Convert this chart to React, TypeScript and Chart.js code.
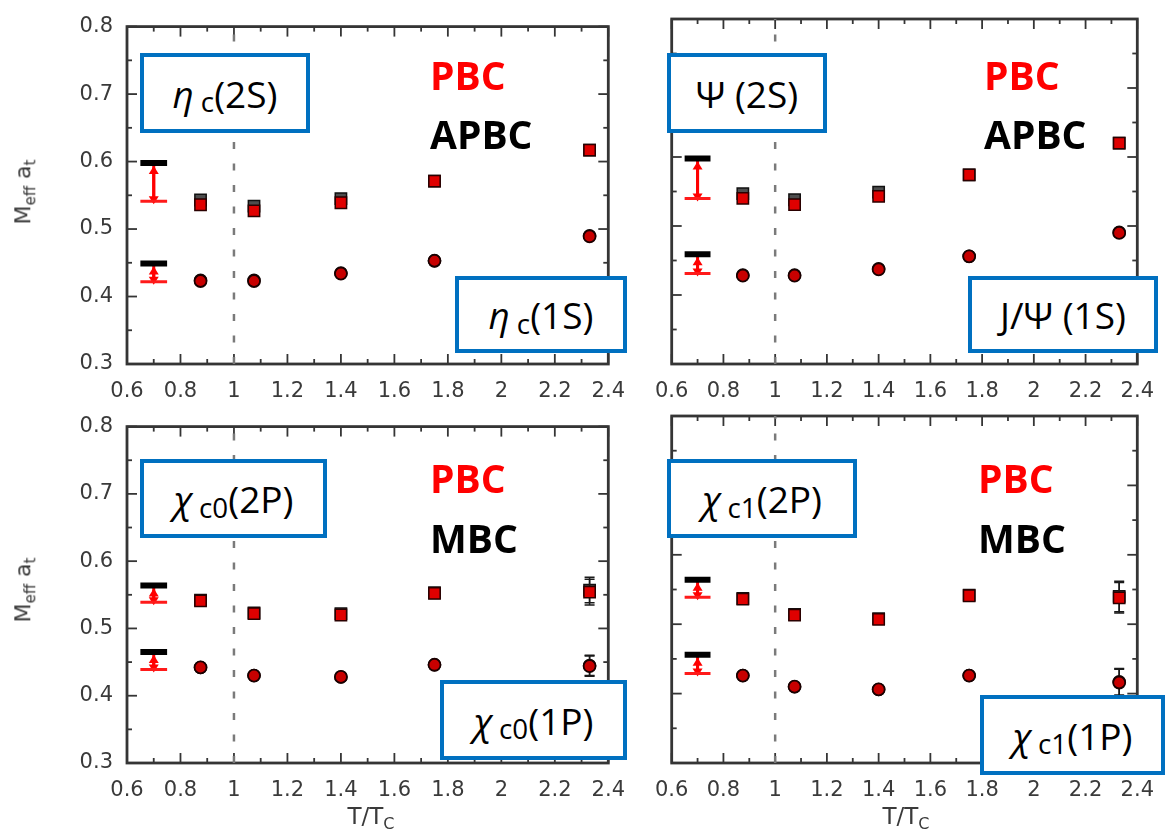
import React, { useEffect, useRef } from 'react';
import { Chart, registerables } from 'chart.js';

Chart.register(...registerables);

// ---------- data ----------
const temps = [0.875, 1.075, 1.4, 1.75, 2.33];
const refBarX = [0.65, 0.75];
const refArrowX = 0.7;
const tcLineX = 1;
const xTickValues = [0.6, 0.8, 1, 1.2, 1.4, 1.6, 1.8, 2, 2.2, 2.4];
const yTickValues = [0.3, 0.4, 0.5, 0.6, 0.7, 0.8];

// eta_c panel (PBC vs APBC)
const etaC2S_APBC = [0.543, 0.534, 0.545, 0.571, 0.617];
const etaC2S_PBC = [0.536, 0.527, 0.539, 0.571, 0.617];
const etaC1S_APBC = [0.424, 0.424, 0.435, 0.453, 0.490];
const etaC1S_PBC = [0.423, 0.423, 0.434, 0.453, 0.489];
const etaC_ref_APBC = [0.598, 0.449];
const etaC_ref_PBC = [0.541, 0.422];

// J/psi panel (PBC vs APBC)
const psi2S_APBC = [0.547, 0.538, 0.549, 0.574, 0.620];
const psi2S_PBC = [0.540, 0.531, 0.543, 0.574, 0.620];
const psi1S_APBC = [0.429, 0.429, 0.438, 0.456, 0.491];
const psi1S_PBC = [0.428, 0.428, 0.437, 0.456, 0.490];
const psi_ref_APBC = [0.598, 0.459];
const psi_ref_PBC = [0.540, 0.431];

// chi_c0 panel (PBC vs MBC)
const chiC0_2P_MBC = [0.542, 0.523, 0.522, 0.553, 0.557];
const chiC0_2P_PBC = [0.541, 0.522, 0.520, 0.552, 0.554];
const chiC0_2P_err = [0.003, 0.003, 0.003, 0.006, 0.019];
const chiC0_1P_MBC = [0.442, 0.430, 0.428, 0.446, 0.445];
const chiC0_1P_PBC = [0.442, 0.430, 0.428, 0.446, 0.444];
const chiC0_1P_err = [0.002, 0.002, 0.002, 0.003, 0.015];
const chiC0_ref_MBC = [0.564, 0.465];
const chiC0_ref_PBC = [0.539, 0.439];

// chi_c1 panel (PBC vs MBC)
const chiC1_2P_MBC = [0.537, 0.514, 0.508, 0.542, 0.540];
const chiC1_2P_PBC = [0.536, 0.513, 0.507, 0.541, 0.538];
const chiC1_2P_err = [0.003, 0.003, 0.003, 0.007, 0.022];
const chiC1_1P_MBC = [0.426, 0.410, 0.406, 0.426, 0.417];
const chiC1_1P_PBC = [0.426, 0.410, 0.406, 0.426, 0.416];
const chiC1_1P_err = [0.002, 0.002, 0.002, 0.003, 0.019];
const chiC1_ref_MBC = [0.564, 0.456];
const chiC1_ref_PBC = [0.539, 0.429];

const smallErr = [0.002, 0.002, 0.002, 0.002, 0.003];

// ---------- styles ----------
const AXIS_COLOR = '#353535';
const LABEL_COLOR = '#3a3a3a';
const RED = '#e00000';

function buildDatasets(
  upA: number[], upP: number[], upErr: number[],
  loA: number[], loP: number[], loErr: number[],
  refA: number[], refP: number[]
) {
  const pts = (ys: number[]) => ys.map((y, i) => ({ x: temps[i], y }));
  const bar = (y: number) => refBarX.map((x) => ({ x, y }));
  const ds: any[] = [
    {
      data: [{ x: tcLineX, y: yTickValues[0] }, { x: tcLineX, y: yTickValues[yTickValues.length - 1] }],
      showLine: true, borderColor: '#7a7a7a', borderWidth: 2.5, borderDash: [7, 14.5],
      pointRadius: 0, order: 20,
    },
  ];
  for (let k = 0; k < 2; k++) {
    ds.push({
      data: [{ x: refArrowX, y: refA[k] }, { x: refArrowX, y: refP[k] }],
      showLine: true, borderColor: '#ff0000', borderWidth: 3, pointRadius: 0,
      arrowHeads: true, order: 12,
    });
    ds.push({ data: bar(refP[k]), showLine: true, borderColor: '#ff1a1a', borderWidth: 3, pointRadius: 0, order: 11 });
    ds.push({ data: bar(refA[k]), showLine: true, borderColor: '#000', borderWidth: 6, pointRadius: 0, order: 10 });
  }
  ds.push({
    data: pts(upA), errors: upErr, pointStyle: 'rect', pointRadius: 8,
    backgroundColor: '#4d4d4d', borderColor: '#111', borderWidth: 1.5, order: 5,
  });
  ds.push({
    data: pts(loA), errors: loErr, pointStyle: 'circle', pointRadius: 6,
    backgroundColor: '#4d4d4d', borderColor: '#111', borderWidth: 1.5, order: 5,
  });
  ds.push({
    data: pts(upP), errors: upErr, pointStyle: 'rect', pointRadius: 8,
    backgroundColor: RED, borderColor: '#2a0000', borderWidth: 1.5, order: 2,
  });
  ds.push({
    data: pts(loP), errors: loErr, pointStyle: 'circle', pointRadius: 6,
    backgroundColor: '#c80000', borderColor: '#1a0000', borderWidth: 1.8, order: 2,
  });
  return ds;
}

const fmt = (v: number) => String(Math.round(v * 100) / 100);

const framePlugin = {
  id: 'frameTicks',
  beforeDatasetsDraw(chart: any) {
    const { ctx, chartArea: a, scales } = chart;
    const xs = scales.x, ys = scales.y;
    ctx.save();
    ctx.strokeStyle = AXIS_COLOR;
    ctx.lineWidth = 1.8;
    const tick = (x1: number, y1: number, x2: number, y2: number) => {
      ctx.beginPath(); ctx.moveTo(x1, y1); ctx.lineTo(x2, y2); ctx.stroke();
    };
    const major = 10, minor = 5;
    xTickValues.forEach((v, i) => {
      const px = xs.getPixelForValue(v);
      tick(px, a.bottom, px, a.bottom - major);
      tick(px, a.top, px, a.top + major);
      if (i < xTickValues.length - 1) {
        const m = xs.getPixelForValue((v + xTickValues[i + 1]) / 2);
        tick(m, a.bottom, m, a.bottom - minor);
        tick(m, a.top, m, a.top + minor);
      }
    });
    yTickValues.forEach((v, i) => {
      const py = ys.getPixelForValue(v);
      tick(a.left, py, a.left + major, py);
      tick(a.right, py, a.right - major, py);
      if (i < yTickValues.length - 1) {
        const m = ys.getPixelForValue((v + yTickValues[i + 1]) / 2);
        tick(a.left, m, a.left + minor, m);
        tick(a.right, m, a.right - minor, m);
      }
    });
    ctx.lineWidth = 2.8;
    ctx.strokeRect(a.left, a.top, a.right - a.left, a.bottom - a.top);
    ctx.restore();
  },
};

const errorBarPlugin = {
  id: 'errorBars',
  beforeDatasetDraw(chart: any, args: any) {
    const ds = chart.data.datasets[args.index];
    if (!ds.errors) return;
    const ys = chart.scales.y;
    const { ctx } = chart;
    ctx.save();
    ctx.strokeStyle = '#1a1a1a';
    ctx.lineWidth = 1.5;
    args.meta.data.forEach((el: any, i: number) => {
      const e = ds.errors[i];
      const v = ds.data[i].y;
      const t = ys.getPixelForValue(v + e);
      const b = ys.getPixelForValue(v - e);
      ctx.beginPath();
      ctx.moveTo(el.x, t); ctx.lineTo(el.x, b);
      ctx.moveTo(el.x - 5, t); ctx.lineTo(el.x + 5, t);
      ctx.moveTo(el.x - 5, b); ctx.lineTo(el.x + 5, b);
      ctx.stroke();
    });
    ctx.restore();
  },
};

// draws heads at both ends of an arrow dataset: top tip at the lower edge of the
// black reference bar, bottom tip just past the red reference bar
const arrowPlugin = {
  id: 'arrowHeads',
  afterDatasetDraw(chart: any, args: any) {
    const ds = chart.data.datasets[args.index];
    if (!ds.arrowHeads) return;
    const [p0, p1] = args.meta.data;
    const top = p0.y < p1.y ? p0 : p1;
    const bot = p0.y < p1.y ? p1 : p0;
    const { ctx } = chart;
    const len = 8, half = 5;
    ctx.save();
    ctx.fillStyle = '#ff0000';
    const tT = top.y + 3;
    ctx.beginPath();
    ctx.moveTo(top.x, tT);
    ctx.lineTo(top.x - half, tT + len);
    ctx.lineTo(top.x + half, tT + len);
    ctx.closePath();
    ctx.fill();
    const tB = bot.y + 3;
    ctx.beginPath();
    ctx.moveTo(bot.x, tB);
    ctx.lineTo(bot.x - half, tB - len);
    ctx.lineTo(bot.x + half, tB - len);
    ctx.closePath();
    ctx.fill();
    ctx.strokeStyle = '#ff0000';
    ctx.lineWidth = 3;
    ctx.beginPath();
    ctx.moveTo(top.x, tT + 2);
    ctx.lineTo(bot.x, tB - 2);
    ctx.stroke();
    ctx.restore();
  },
};

type PanelCfg = {
  canvas: { left: number; top: number; width: number; height: number };
  area: { left: number; top: number; right: number; bottom: number };
  showYLabels: boolean;
  datasets: any[];
};

function Panel({ cfg }: { cfg: PanelCfg }) {
  const ref = useRef<HTMLCanvasElement | null>(null);
  useEffect(() => {
    if (!ref.current) return;
    const { canvas: c, area } = cfg;
    const yW = area.left - c.left;
    const xH = c.top + c.height - area.bottom;
    const chart = new Chart(ref.current, {
      type: 'scatter',
      data: { datasets: cfg.datasets },
      plugins: [framePlugin, errorBarPlugin, arrowPlugin],
      options: {
        responsive: false,
        animation: false,
        devicePixelRatio: 1,
        events: [],
        layout: { padding: { left: 0, bottom: 0, top: area.top - c.top, right: c.left + c.width - area.right } },
        plugins: { legend: { display: false }, tooltip: { enabled: false } },
        scales: {
          x: {
            type: 'linear', position: 'bottom', min: 0.6, max: 2.4,
            afterBuildTicks: (s: any) => { s.ticks = xTickValues.map((value) => ({ value })); },
            afterFit: (s: any) => { s.height = xH; },
            grid: { display: false, drawTicks: false },
            border: { display: false },
            ticks: {
              autoSkip: false, maxRotation: 0, padding: 15,
              color: LABEL_COLOR, font: { family: 'DejaVu Sans', size: 21 },
              callback: (v: any) => fmt(Number(v)),
            },
          },
          y: {
            type: 'linear', position: 'left', min: 0.3, max: 0.8,
            afterBuildTicks: (s: any) => { s.ticks = yTickValues.map((value) => ({ value })); },
            afterFit: (s: any) => { s.width = yW; },
            grid: { display: false, drawTicks: false },
            border: { display: false },
            ticks: {
              display: cfg.showYLabels, autoSkip: false, padding: 14,
              color: LABEL_COLOR, font: { family: 'DejaVu Sans', size: 21 },
              callback: (v: any) => fmt(Number(v)),
            },
          },
        },
      } as any,
    });
    return () => chart.destroy();
  }, [cfg]);
  const c = cfg.canvas;
  return (
    <canvas
      ref={ref}
      width={c.width}
      height={c.height}
      style={{ position: 'absolute', left: c.left, top: c.top, width: c.width, height: c.height }}
    />
  );
}

const panels: PanelCfg[] = [
  {
    canvas: { left: 0, top: 0, width: 640, height: 402 },
    area: { left: 127, top: 19, right: 615, bottom: 364 },
    showYLabels: true,
    datasets: buildDatasets(etaC2S_APBC, etaC2S_PBC, smallErr, etaC1S_APBC, etaC1S_PBC, smallErr, etaC_ref_APBC, etaC_ref_PBC),
  },
  {
    canvas: { left: 640, top: 0, width: 529, height: 402 },
    area: { left: 662, top: 19, right: 1149, bottom: 364 },
    showYLabels: false,
    datasets: buildDatasets(psi2S_APBC, psi2S_PBC, smallErr, psi1S_APBC, psi1S_PBC, smallErr, psi_ref_APBC, psi_ref_PBC),
  },
  {
    canvas: { left: 0, top: 400, width: 640, height: 438 },
    area: { left: 127, top: 416, right: 616, bottom: 763 },
    showYLabels: true,
    datasets: buildDatasets(chiC0_2P_MBC, chiC0_2P_PBC, chiC0_2P_err, chiC0_1P_MBC, chiC0_1P_PBC, chiC0_1P_err, chiC0_ref_MBC, chiC0_ref_PBC),
  },
  {
    canvas: { left: 640, top: 400, width: 529, height: 438 },
    area: { left: 662, top: 416, right: 1149, bottom: 763 },
    showYLabels: false,
    datasets: buildDatasets(chiC1_2P_MBC, chiC1_2P_PBC, chiC1_2P_err, chiC1_1P_MBC, chiC1_1P_PBC, chiC1_1P_err, chiC1_ref_MBC, chiC1_ref_PBC),
  },
];

const boxFont = "'Open Sans', 'Noto Sans', sans-serif";

function Box({ l, t, w, h, children }: any) {
  return (
    <div
      style={{
        position: 'absolute', left: l, top: t, width: w, height: h, boxSizing: 'border-box',
        border: '4px solid #0070C0', background: '#fff', display: 'flex', alignItems: 'center',
        justifyContent: 'center', fontFamily: boxFont, fontSize: 37, color: '#000', whiteSpace: 'nowrap',
      }}
    >
      {children}
    </div>
  );
}

const Sub = ({ children }: any) => (
  <span style={{ fontSize: '0.75em', position: 'relative', top: '0.3em', marginLeft: '0.25em' }}>{children}</span>
);

function Tag({ l, t, color, text }: any) {
  return (
    <div
      style={{
        position: 'absolute', left: l, top: t, fontFamily: boxFont, fontWeight: 700,
        fontSize: 39, lineHeight: '39px', color, whiteSpace: 'nowrap',
      }}
    >
      {text}
    </div>
  );
}

function YTitle({ cy }: { cy: number }) {
  return (
    <div
      style={{
        position: 'absolute', left: 27, top: cy, transform: 'translate(-50%, -50%) rotate(-90deg)',
        fontFamily: 'DejaVu Sans', fontSize: 22, color: LABEL_COLOR, whiteSpace: 'nowrap', lineHeight: '24px',
      }}
    >
      M<sub style={{ fontSize: 15 }}>eff</sub> a<sub style={{ fontSize: 15 }}>t</sub>
    </div>
  );
}

function XTitle({ cx }: { cx: number }) {
  return (
    <div
      style={{
        position: 'absolute', left: cx, top: 820, transform: 'translate(-50%, -50%)',
        fontFamily: 'DejaVu Sans', fontSize: 23, color: LABEL_COLOR, whiteSpace: 'nowrap', lineHeight: '26px',
      }}
    >
      T/T<sub style={{ fontSize: 16 }}>C</sub>
    </div>
  );
}

export default function App() {
  return (
    <div style={{ position: 'absolute', left: 0, top: 0, width: 1169, height: 838, background: '#fff', overflow: 'hidden' }}>
      {panels.map((p, i) => (
        <Panel key={i} cfg={p} />
      ))}
      <YTitle cy={192} />
      <YTitle cy={590} />
      <XTitle cx={371} />
      <XTitle cx={906} />

      <Tag l={430} t={55} color="#ff0000" text="PBC" />
      <Tag l={430} t={114} color="#000" text="APBC" />
      <Tag l={984} t={55} color="#ff0000" text="PBC" />
      <Tag l={984} t={114} color="#000" text="APBC" />
      <Tag l={430} t={458} color="#ff0000" text="PBC" />
      <Tag l={430} t={518} color="#000" text="MBC" />
      <Tag l={978} t={458} color="#ff0000" text="PBC" />
      <Tag l={978} t={518} color="#000" text="MBC" />

      <Box l={140} t={53} w={170} h={80}><i>η</i><Sub>c</Sub>(2S)</Box>
      <Box l={455} t={276} w={172} h={77}><i>η</i><Sub>c</Sub>(1S)</Box>
      <Box l={667} t={53} w={160} h={80}>Ψ&nbsp;(2S)</Box>
      <Box l={968} t={276} w={190} h={77}>J/Ψ&nbsp;(1S)</Box>
      <Box l={140} t={459} w={187} h={79}><i>χ</i><Sub>c0</Sub>(2P)</Box>
      <Box l={440} t={680} w={187} h={80}><i>χ</i><Sub>c0</Sub>(1P)</Box>
      <Box l={667} t={459} w={190} h={79}><i>χ</i><Sub>c1</Sub>(2P)</Box>
      <Box l={980} t={695} w={185} h={80}><i>χ</i><Sub>c1</Sub>(1P)</Box>
    </div>
  );
}
